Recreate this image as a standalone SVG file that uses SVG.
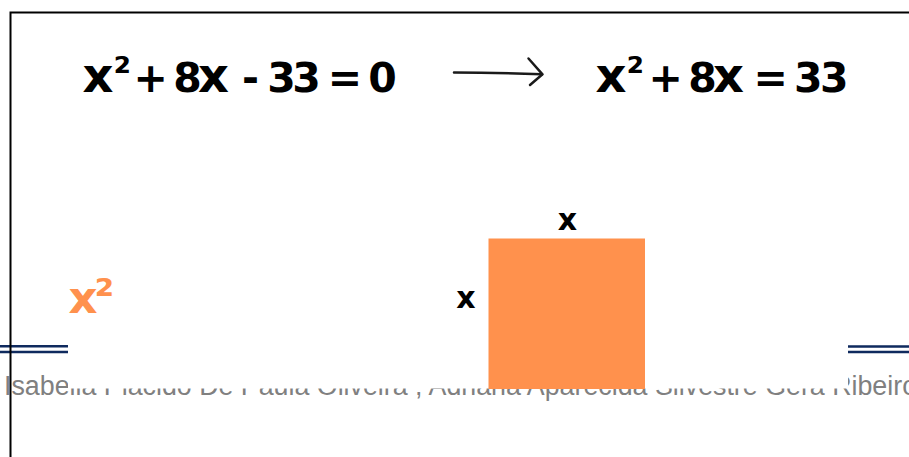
<svg xmlns="http://www.w3.org/2000/svg" width="909" height="457" viewBox="0 0 909 457">
<style>
.eq{font-family:"DejaVu Sans",Verdana,sans-serif;font-weight:bold;font-size:41px;fill:#000}
.bigx{font-size:48px}
.sup{font-size:40px}
.tight{letter-spacing:-3.7px}
.lbl{font-family:"DejaVu Sans",Verdana,sans-serif;font-weight:bold;font-size:30px;fill:#000;text-anchor:middle}
.org{font-family:"DejaVu Sans",Verdana,sans-serif;font-weight:bold;font-size:45px;fill:#FF914D;letter-spacing:-3px}
.footer{font-family:"Liberation Sans",Arial,sans-serif;font-size:26.8px;fill:#808080}
.dbl{stroke:#0f2a5e;stroke-width:2.5;fill:none}
.frame{stroke:#000;stroke-width:2;fill:none}
.conn{stroke:#1a1a1a;stroke-width:2.5;fill:none;stroke-linecap:round;stroke-linejoin:round}
</style>
<rect x="0" y="0" width="909" height="457" fill="#fff"/>
<g id="footer">
<path class="dbl" d="M0,346.2 H68 M0,352 H68 M848,346.5 H909 M848,352 H909"/>
<text class="footer" x="4" y="395">Isabella Plácido De Paula Oliveira , Adriana Aparecida Silvestre Gera Ribeiro</text>
</g>
<rect id="panel" x="68" y="14" width="780" height="374.5" fill="#fff"/>
<g id="eq-left">
<text class="eq" y="92"><tspan class="bigx" x="82.5" y="92">x<tspan class="sup" dy="-6.5">²</tspan></tspan> <tspan x="133.6" y="92">+</tspan> <tspan class="tight" x="173.2">8<tspan class="bigx">x</tspan></tspan> <tspan x="242">-</tspan> <tspan x="267.2" dx="0 -3.5">33</tspan> <tspan x="327.8">=</tspan> <tspan x="368.2">0</tspan></text>
</g>
<g id="eq-right">
<text class="eq" y="92"><tspan class="bigx" x="595.5" y="92">x<tspan class="sup" dy="-6.5">²</tspan></tspan> <tspan x="648.6" y="92">+</tspan> <tspan class="tight" x="688.2">8<tspan class="bigx">x</tspan></tspan> <tspan x="753.6">=</tspan> <tspan x="794" dx="0 -2.6">33</tspan></text>
</g>
<g id="connectors">
<path class="conn" d="M454,72.4 C485,72.6 515,73.4 542,74.3"/>
<path class="conn" d="M528.5,58.5 L542.5,74.3 L530,85"/>
</g>
<g id="label-x2">
<text class="org" x="68.5" y="312.5">x<tspan dy="-1.5">²</tspan></text>
</g>
<g id="square">
<rect x="488.5" y="238.5" width="156.5" height="150.5" fill="#FF914D"/>
<text class="lbl" x="567.5" y="230">x</text>
<text class="lbl" x="466" y="308.3">x</text>
</g>
<g id="frame">
<path class="frame" d="M10.5,457 V12.5 H909"/>
</g>
</svg>
